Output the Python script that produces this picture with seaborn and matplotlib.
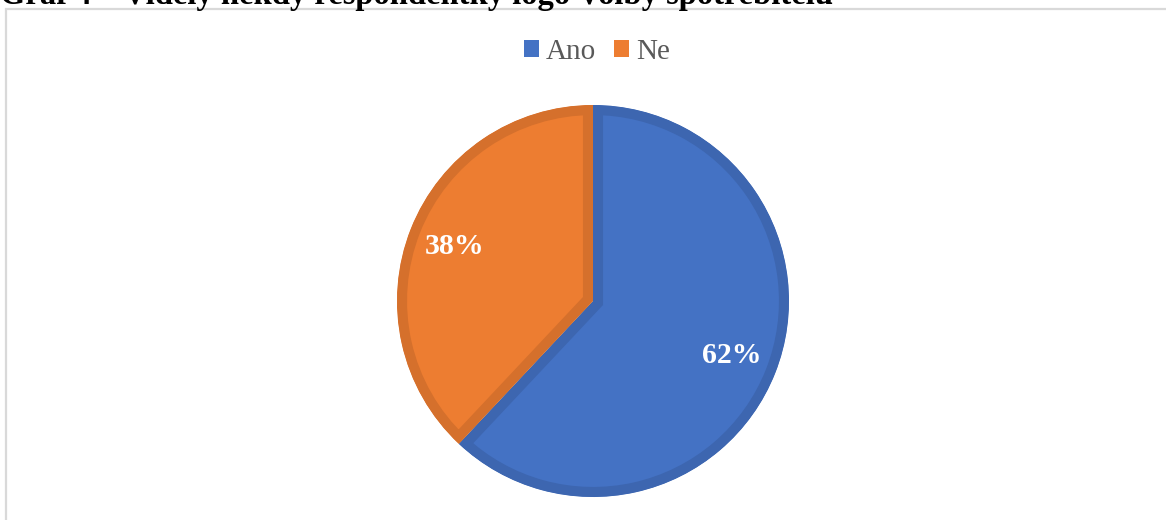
import matplotlib
matplotlib.use("Agg")
import matplotlib.pyplot as plt
from matplotlib.patches import Patch, Rectangle
import seaborn as sns

# Survey answers
categories = ["Ano", "Ne"]
shares = [62, 38]
title = "Graf 4 – Viděly někdy respondentky logo Volby spotřebitelů"

fill_colors = ["#4472C4", "#ED7D31"]
edge_colors = ["#3D66B0", "#D5702C"]

sns.set_theme(style="white")
plt.rcParams["font.family"] = ["Liberation Serif", "DejaVu Serif"]

W, H = 1166, 520
fig = plt.figure(figsize=(W / 100, H / 100), dpi=100)

# chart frame (light grey, open on the right/bottom edge of the canvas)
fig.patches.append(Rectangle((6 / W, -0.05), 1.2, 1 - 9 / H + 0.05,
                             transform=fig.transFigure, fill=False,
                             edgecolor="#D9D9D9", linewidth=1.6))

# caption, partially above the canvas
fig.text(0.0, 1 - 4 / H, title, ha="left", va="baseline",
         fontsize=23.5, fontweight="bold", color="black")

# pie axes: centre (593, 301) px from top-left, radius 196 px
cx, cy, r = 593, 301, 196
span = r * 1.25
ax = fig.add_axes([(cx - span) / W, (H - cy - span) / H, 2 * span / W, 2 * span / H])

wedges, texts, autotexts = ax.pie(
    shares, colors=fill_colors, startangle=90, counterclock=False,
    autopct=lambda p: f"{p:.0f}%", pctdistance=0.76,
    textprops=dict(color="white", fontsize=21.5, fontweight="bold"),
)
ax.set_xlim(-1.25, 1.25)
ax.set_ylim(-1.25, 1.25)
ax.set_aspect("equal")
ax.axis("off")

# inner border on each slice: a wide stroke clipped to the slice itself
for w, ec in zip(wedges, edge_colors):
    w.set_edgecolor(ec)
    w.set_linewidth(14.5)
    w.set_clip_on(True)
    w.set_clip_path(w)

handles = [Patch(facecolor=c, edgecolor="none") for c in fill_colors]
leg = fig.legend(handles, categories, loc="center", bbox_to_anchor=(597 / W, 1 - 52 / H),
                 ncol=2, frameon=False, fontsize=21, handlelength=0.5, handleheight=0.5,
                 handletextpad=0.25, columnspacing=0.6)
for t in leg.get_texts():
    t.set_color("#595959")

fig.savefig("out.png", dpi=100)
